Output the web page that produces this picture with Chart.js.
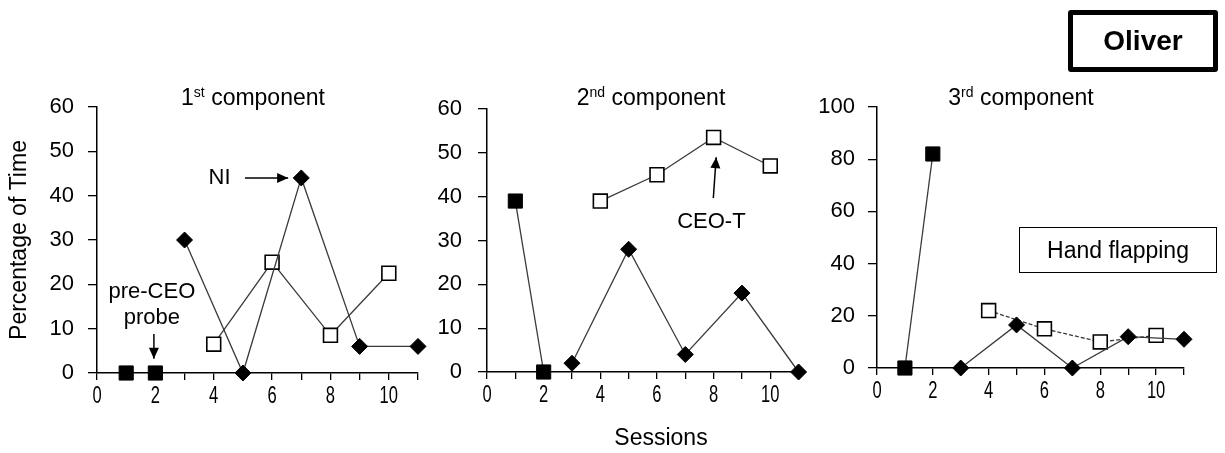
<!DOCTYPE html>
<html>
<head>
<meta charset="utf-8">
<script src="https://cdn.jsdelivr.net/npm/chart.js@4/dist/chart.umd.min.js"></script>
<style>
  html, body { margin:0; padding:0; background:#fff; }
  body { width:1225px; height:453px; position:relative; overflow:hidden; font-family:"Liberation Sans", Arial, sans-serif; color:#000; }
  .cv { position:absolute; top:0; }
  .title { position:absolute; font-size:23px; white-space:nowrap; transform:translateX(-50%); line-height:26px; }
  .title sup { font-size:14px; vertical-align:8px; line-height:0; }
  #oliver { position:absolute; left:1068px; top:10px; width:140px; height:52px; border:5px solid #000; border-radius:3px; font-weight:bold; font-size:28px; text-align:center; line-height:52px; }
  #hand { position:absolute; left:1019px; top:227px; width:196px; height:44px; border:1.5px solid #000; font-size:23px; text-align:center; line-height:44px; }
  #sessions { position:absolute; left:661px; top:424px; transform:translateX(-50%); font-size:23px; line-height:26px; }
</style>
</head>
<body>
<canvas id="c1" class="cv" style="left:0px" width="430" height="453"></canvas>
<canvas id="c2" class="cv" style="left:430px" width="380" height="453"></canvas>
<canvas id="c3" class="cv" style="left:810px" width="415" height="453"></canvas>
<div class="title" style="left:253px; top:84px;">1<sup>st</sup> component</div>
<div class="title" style="left:651px; top:84px;">2<sup>nd</sup> component</div>
<div class="title" style="left:1021px; top:84px;">3<sup>rd</sup> component</div>
<div id="oliver">Oliver</div>
<div id="hand">Hand flapping</div>
<div id="sessions">Sessions</div>
<script>
// ---- data ----
const probeSessions = [1, 2];
const niSessions = [3, 5, 7, 9, 11];
const ceoSessions = [4, 6, 8, 10];

const probe1 = [0, 0];
const ni1 = [30, 0, 44, 6, 6];
const ceo1 = [6.5, 25, 8.5, 22.5];

const probe2 = [39, 0];
const ni2 = [2, 28, 4, 18, 0];
const ceo2 = [39, 45, 53.5, 47];

const probe3 = [0, 82];
const ni3 = [0, 16.5, 0, 12, 11];
const ceo3 = [22, 15, 10, 12.5];

const yMax = [60, 60, 100];
const yStep = [10, 10, 20];
const xTickLabels = [0, 2, 4, 6, 8, 10];

function zip(xs, ys) { return xs.map((x, i) => ({ x: x, y: ys[i] })); }

const LINE = '#3a3a3a';

function datasets(probe, ni, ceo, dashed, probeLine) {
  return [
    { label: 'pre-CEO probe', data: zip(probeSessions, probe), showLine: probeLine,
      borderColor: LINE, borderWidth: 1.3, pointStyle: 'rect', pointRadius: 10,
      pointBackgroundColor: '#000', pointBorderColor: '#000', pointBorderWidth: 1, clip: false },
    { label: 'NI', data: zip(niSessions, ni), showLine: true,
      borderColor: LINE, borderWidth: 1.3, pointStyle: 'rectRot', pointRadius: 8,
      pointBackgroundColor: '#000', pointBorderColor: '#000', pointBorderWidth: 1, clip: false },
    { label: 'CEO-T', data: zip(ceoSessions, ceo), showLine: true,
      borderColor: LINE, borderWidth: 1.3, borderDash: dashed ? [4, 2] : [],
      pointStyle: 'rect', pointRadius: 9.8, pointBackgroundColor: '#fff',
      pointBorderColor: '#000', pointBorderWidth: 1.6, clip: false }
  ];
}

// annotation plugin: texts and arrows placed in data coordinates, narrow x tick labels
const annot = {
  id: 'annot',
  afterDraw(chart, args, opts) {
    const ctx = chart.ctx, xs = chart.scales.x, ys = chart.scales.y;
    ctx.save();
    ctx.fillStyle = '#000'; ctx.strokeStyle = '#000';
    // x tick labels (condensed)
    ctx.font = '23px "Liberation Sans", Arial, sans-serif';
    ctx.textAlign = 'center'; ctx.textBaseline = 'middle';
    xTickLabels.forEach(v => {
      ctx.save();
      ctx.translate(xs.getPixelForValue(v), ys.bottom + 24);
      ctx.scale(0.72, 1);
      ctx.fillText(String(v), 0, 0);
      ctx.restore();
    });
    (opts.texts || []).forEach(t => {
      ctx.font = '22px "Liberation Sans", Arial, sans-serif';
      ctx.textAlign = 'center'; ctx.textBaseline = 'middle';
      ctx.fillText(t.text, xs.getPixelForValue(t.x), ys.getPixelForValue(t.y));
    });
    (opts.arrows || []).forEach(a => {
      const x1 = xs.getPixelForValue(a.x1), y1 = ys.getPixelForValue(a.y1);
      const x2 = xs.getPixelForValue(a.x2), y2 = ys.getPixelForValue(a.y2);
      ctx.lineWidth = 1.5;
      ctx.beginPath(); ctx.moveTo(x1, y1); ctx.lineTo(x2, y2); ctx.stroke();
      const ang = Math.atan2(y2 - y1, x2 - x1), L = 11, W = 5;
      ctx.beginPath();
      ctx.moveTo(x2, y2);
      ctx.lineTo(x2 - L * Math.cos(ang) + W * Math.sin(ang), y2 - L * Math.sin(ang) - W * Math.cos(ang));
      ctx.lineTo(x2 - L * Math.cos(ang) - W * Math.sin(ang), y2 - L * Math.sin(ang) + W * Math.cos(ang));
      ctx.closePath(); ctx.fill();
    });
    ctx.restore();
  }
};

function makeChart(id, idx, probe, ni, ceo, cfg) {
  const ctx = document.getElementById(id);
  return new Chart(ctx, {
    type: 'scatter',
    data: { datasets: datasets(probe, ni, ceo, cfg.dashed, cfg.probeLine) },
    options: {
      responsive: false, animation: false, events: [],
      layout: { padding: { left: 0, right: cfg.padRight, top: cfg.padTop, bottom: 0 } },
      plugins: { legend: { display: false }, tooltip: { enabled: false },
        annot: { texts: cfg.texts || [], arrows: cfg.arrows || [] } },
      scales: {
        x: {
          type: 'linear', min: 0, max: 11,
          afterFit: s => { s.height = cfg.xHeight; },
          afterBuildTicks: s => { s.ticks = []; for (let v = 0; v <= 11; v++) s.ticks.push({ value: v }); },
          ticks: { stepSize: 1, autoSkip: false, maxRotation: 0, padding: 3, color: '#000',
            font: { family: '"Liberation Sans", Arial', size: 19 },
            callback: () => '' },
          grid: { display: true, drawOnChartArea: false, drawTicks: true, tickLength: 7, color: '#000', lineWidth: 1.3 },
          border: { display: true, color: '#000', width: 1.5 }
        },
        y: {
          min: 0, max: yMax[idx],
          afterFit: s => { s.width = cfg.yWidth; },
          ticks: { stepSize: yStep[idx], padding: cfg.yPad, color: '#000',
            font: { family: '"Liberation Sans", Arial', size: 22 } },
          grid: { display: true, drawOnChartArea: false, drawTicks: true, tickLength: 9, color: '#000', lineWidth: 1.3 },
          border: { display: true, color: '#000', width: 1.5 },
          title: { display: !!cfg.yTitle, text: cfg.yTitle || '', color: '#000',
            font: { family: '"Liberation Sans", Arial', size: 23 }, padding: { top: 6, bottom: 0 } }
        }
      }
    },
    plugins: [annot]
  });
}

makeChart('c1', 0, probe1, ni1, ceo1, {
  padRight: 12, padTop: 107, xHeight: 80, yWidth: 97, yPad: 14, probeLine: false,
  yTitle: 'Percentage of Time',
  texts: [ { text: 'NI', x: 4.2, y: 44 }, { text: 'pre-CEO', x: 1.88, y: 18.3 }, { text: 'probe', x: 1.88, y: 12.4 } ],
  arrows: [ { x1: 5.07, y1: 44, x2: 6.55, y2: 44 }, { x1: 1.95, y1: 8.8, x2: 1.95, y2: 3.2 } ]
});
makeChart('c2', 1, probe2, ni2, ceo2, {
  padRight: 9, padTop: 109, xHeight: 81, yWidth: 57, yPad: 16, probeLine: true,
  texts: [ { text: 'CEO-T', x: 7.92, y: 34.2 } ],
  arrows: [ { x1: 7.99, y1: 39.7, x2: 8.09, y2: 49.0 } ]
});
makeChart('c3', 2, probe3, ni3, ceo3, {
  padRight: 41, padTop: 107, xHeight: 85, yWidth: 67, yPad: 13, probeLine: true, dashed: true
});
</script>
</body>
</html>
